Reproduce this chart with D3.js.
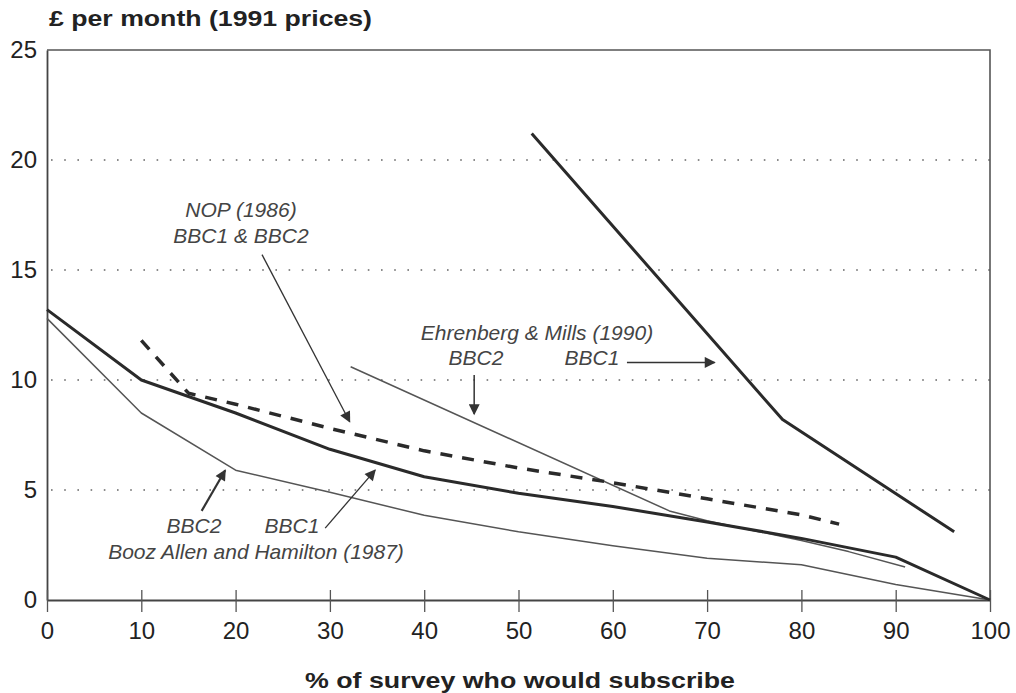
<!DOCTYPE html>
<html><head><meta charset="utf-8">
<script src="https://cdn.jsdelivr.net/npm/d3@7"></script>
<style>body{margin:0;background:#fff}svg{display:block}</style>
</head><body>
<svg id="c" width="1016" height="693"></svg>
<script>
const xTicks = [0,10,20,30,40,50,60,70,80,90,100];
const yTicks = [0,5,10,15,20,25];
const gridY = [5,10,15,20];

// Booz Allen and Hamilton (1987)
const boozX = [0,10,20,30,40,50,60,70,80,90,100];
const boozBBC1 = [13.2,10.0,8.5,6.85,5.6,4.85,4.25,3.55,2.8,1.95,0];
const boozBBC2 = [12.8,8.5,5.9,4.9,3.85,3.1,2.47,1.9,1.6,0.7,0];

// NOP (1986) BBC1 & BBC2
const nopX = [10,15,20,30,40,50,60,70,80,84];
const nopY = [11.8,9.4,8.9,7.8,6.78,6.0,5.33,4.6,3.87,3.45];

// Ehrenberg & Mills (1990)
const ehrBBC2X = [32.2,66,70,75,80,85,91];
const ehrBBC2Y = [10.6,4.05,3.6,3.15,2.7,2.2,1.5];
const ehrBBC1X = [51.4,78,96.2];
const ehrBBC1Y = [21.2,8.2,3.1];

const svg = d3.select("#c");
const x = d3.scaleLinear().domain([0,100]).range([47,990]);
const y = d3.scaleLinear().domain([0,25]).range([600,50]);
const font = "'Liberation Sans', Arial, Helvetica, sans-serif";

// dotted grid
svg.append("g").selectAll("line").data(gridY).join("line")
  .attr("x1", x(0)+4).attr("x2", x(100)).attr("y1", d=>y(d)).attr("y2", d=>y(d))
  .attr("stroke","#666").attr("stroke-width",1.6).attr("stroke-dasharray","1.6 11.6");

// frame top & right
svg.append("path").attr("d", `M${x(0)},${y(25)}H${x(100)}V${y(0)}`)
  .attr("fill","none").attr("stroke","#555").attr("stroke-width",1.6);

// y axis
const ya = svg.append("g").attr("transform",`translate(${x(0)},0)`)
  .call(d3.axisLeft(y).tickValues(yTicks).tickSize(0).tickPadding(10));
ya.select(".domain").attr("stroke","#444").attr("stroke-width",1.8);
ya.selectAll("text").attr("font-family",font).attr("font-size",24).attr("fill","#222");

// x axis with crossing ticks
const xa = svg.append("g").attr("transform",`translate(0,${y(0)})`)
  .call(d3.axisBottom(x).tickValues(xTicks).tickSizeInner(12).tickSizeOuter(0).tickPadding(10));
xa.select(".domain").attr("stroke","#444").attr("stroke-width",1.8);
xa.selectAll(".tick line").attr("y1",-10).attr("y2",12).attr("stroke","#555").attr("stroke-width",1.3);
xa.selectAll("text").attr("font-family",font).attr("font-size",24).attr("fill","#222");

// titles
svg.append("text").attr("x",49).attr("y",26).attr("font-family",font).attr("font-weight","bold")
  .attr("font-size",22).attr("fill","#222").attr("textLength",323).attr("lengthAdjust","spacingAndGlyphs")
  .text("£ per month (1991 prices)");
svg.append("text").attr("x",305).attr("y",688).attr("font-family",font).attr("font-weight","bold")
  .attr("font-size",22).attr("fill","#222").attr("textLength",430).attr("lengthAdjust","spacingAndGlyphs")
  .text("% of survey who would subscribe");

const line = d3.line().x(d=>x(d[0])).y(d=>y(d[1]));
const zip = (a,b)=>a.map((v,i)=>[v,b[i]]);

function series(xs, ys, w, col, dash){
  svg.append("path").datum(zip(xs,ys)).attr("d",line)
    .attr("fill","none").attr("stroke",col).attr("stroke-width",w)
    .attr("stroke-linejoin","round").attr("stroke-dasharray",dash||null);
}
series(boozX, boozBBC2, 1.5, "#555");
series(ehrBBC2X, ehrBBC2Y, 1.5, "#555");
series(boozX, boozBBC1, 3, "#2a2a2a");
series(nopX, nopY, 3.5, "#2a2a2a", "12 10");
series(ehrBBC1X, ehrBBC1Y, 3, "#2a2a2a");

// arrow marker
const defs = svg.append("defs");
defs.append("marker").attr("id","ah").attr("viewBox","0 0 10 10").attr("refX",9).attr("refY",5)
  .attr("markerWidth",13).attr("markerHeight",11).attr("markerUnits","userSpaceOnUse").attr("orient","auto")
  .append("path").attr("d","M0,0L10,5L0,10Z").attr("fill","#333");

const arrows = [
  {from:[22.8,15.7], to:[32.1,8.1], w:1.3},
  {from:[45.3,10.23], to:[45.3,8.45], w:1.5},
  {from:[61.5,10.8], to:[70.8,10.8], w:1.5},
  {from:[16.4,4.05], to:[18.9,5.9], w:2.2},
  {from:[29.5,3.27], to:[34.8,5.9], w:1.3}
];
svg.append("g").selectAll("line").data(arrows).join("line")
  .attr("x1",d=>x(d.from[0])).attr("y1",d=>y(d.from[1]))
  .attr("x2",d=>x(d.to[0])).attr("y2",d=>y(d.to[1]))
  .attr("stroke","#333").attr("stroke-width",d=>d.w).attr("marker-end","url(#ah)");

const labels = [
  {t:"NOP (1986)", x:241, y:217},
  {t:"BBC1 & BBC2", x:241, y:243},
  {t:"Ehrenberg & Mills (1990)", x:537, y:340},
  {t:"BBC2", x:476, y:365},
  {t:"BBC1", x:592, y:365},
  {t:"BBC2", x:194, y:533},
  {t:"BBC1", x:292, y:533},
  {t:"Booz Allen and Hamilton (1987)", x:256, y:559}
];
svg.append("g").selectAll("text").data(labels).join("text")
  .attr("x",d=>d.x).attr("y",d=>d.y).attr("text-anchor","middle")
  .attr("font-family",font).attr("font-style","italic").attr("font-size",21)
  .attr("fill","#444").text(d=>d.t);
</script>
</body></html>
